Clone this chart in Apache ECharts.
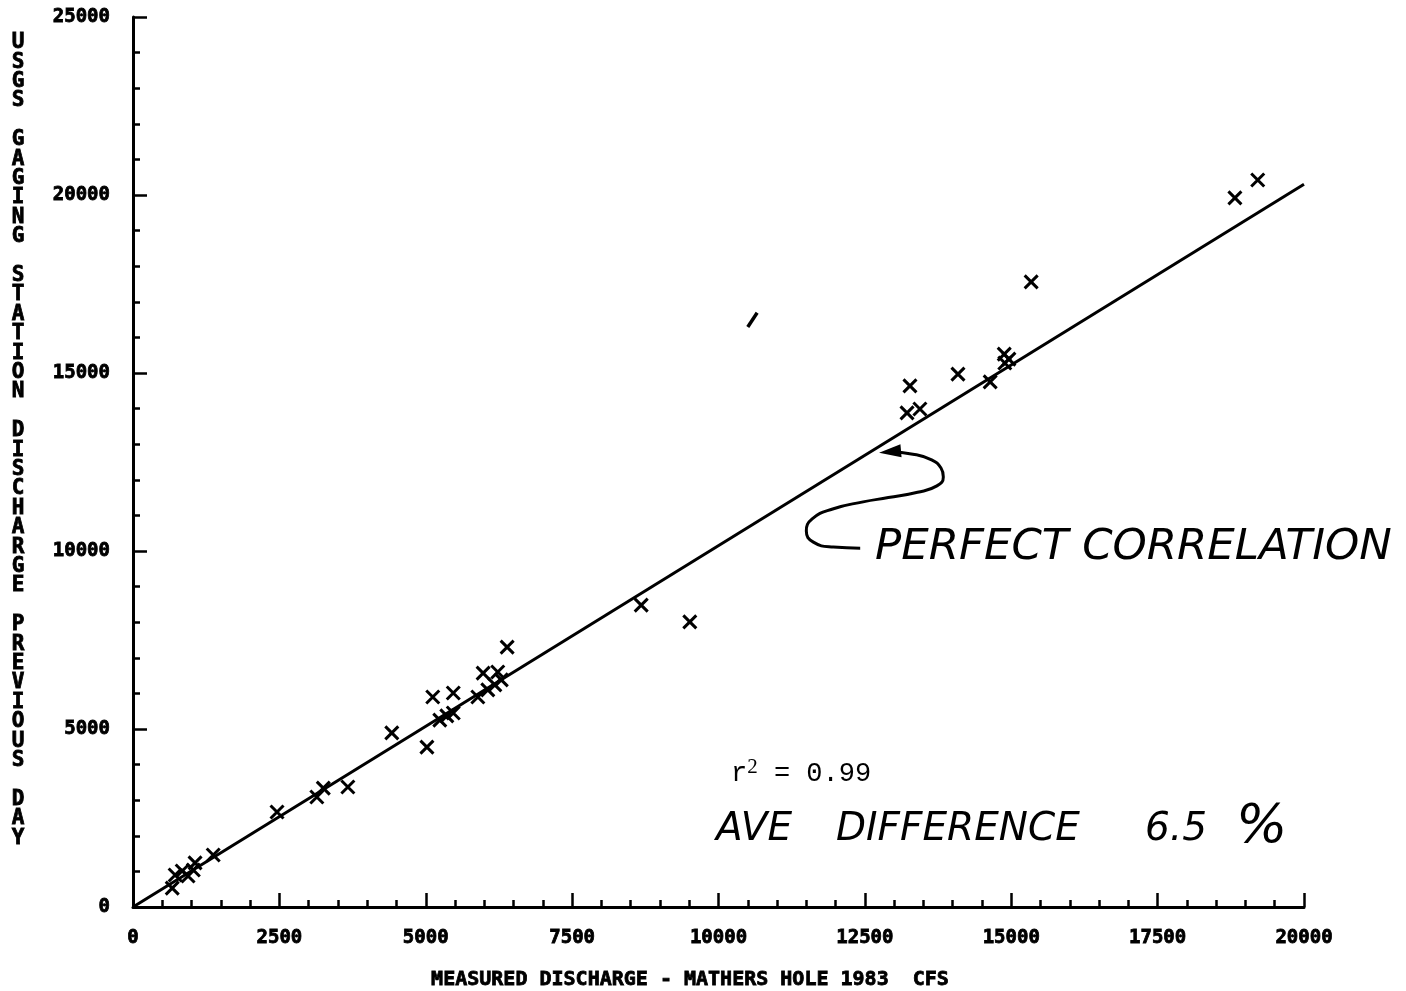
<!DOCTYPE html>
<html><head><meta charset="utf-8">
<script src="https://cdn.jsdelivr.net/npm/echarts@6/dist/echarts.min.js"></script>
<style>html,body{margin:0;padding:0;background:#fff}#c{width:1406px;height:991px}</style>
</head><body><div id="c"></div>
<script>
// ---- data ----
const measuredCfs = [18820, 19210, 15340, 13270, 13220, 13440, 14090, 14640, 14880, 14960, 14890,
  8680, 9510, 6390, 5980, 6230, 5120, 5470, 5890, 6060, 6180, 6290, 5240, 5360, 5470,
  4420, 5020, 3670, 3250, 3140, 2460, 1370, 1060, 1030, 840, 720, 940, 670];
const usgsPrevDay = [19920, 20420, 17560, 14640, 13880, 13990, 14970, 14750, 15530, 15390, 15280,
  8480, 8010, 7300, 6570, 6600, 5900, 6010, 5900, 6100, 6240, 6380, 5250, 5370, 5450,
  4890, 4490, 3370, 3340, 3090, 2670, 1460, 1240, 1040, 1010, 900, 870, 530];
const fitLineX = [0, 20000];
const fitLineY = [0, 20300];
const xTickLabels = [0, 2500, 5000, 7500, 10000, 12500, 15000, 17500, 20000];
const yTickLabels = [0, 5000, 10000, 15000, 20000, 25000];
// annotation arrow (data coordinates)
const arrowCurveX = [12930, 13320, 13640, 13800, 13840, 13730, 13400, 12900, 12470, 11950, 11600, 11500, 11620, 11960, 12420];
const arrowCurveY = [12780, 12720, 12560, 12330, 12080, 11830, 11650, 11500, 11380, 11180, 10900, 10560, 10250, 10110, 10080];
const arrowTip = [12930, 12790];
const strayMarkX = [10500, 10660];
const strayMarkY = [16290, 16690];
const yTitle = 'USGS GAGING STATION DISCHARGE PREVIOUS DAY';
const xTitle = 'MEASURED DISCHARGE - MATHERS HOLE 1983  CFS';

const zip = (a, b) => a.map((v, i) => [v, b[i]]);
const mono = '"DejaVu Sans Mono", monospace';

const chart = echarts.init(document.getElementById('c'), null, {renderer: 'canvas'});
const axisCommon = {
  axisLine: {show: true, onZero: false, lineStyle: {color: '#000', width: 3}},
  axisTick: {show: true, inside: true, length: 14, lineStyle: {color: '#000', width: 2.5}},
  minorTick: {show: true, splitNumber: 5, length: 7, lineStyle: {color: '#000', width: 2.5}},
  splitLine: {show: false},
  axisLabel: {color: '#000', fontFamily: mono, fontWeight: 'bold', fontSize: 19, margin: 22,
    textBorderColor: '#000', textBorderWidth: 0.8, formatter: v => String(v)}
};
chart.setOption({
  animation: false,
  backgroundColor: '#fff',
  grid: {left: 133, right: 102, top: 17, bottom: 84, containLabel: false},
  xAxis: Object.assign({type: 'value', min: 0, max: 20000, interval: 2500}, axisCommon,
    {axisLabel: Object.assign({}, axisCommon.axisLabel, {margin: 22, showMaxLabel: true, showMinLabel: true})}),
  yAxis: Object.assign({type: 'value', min: 0, max: 25000, interval: 5000}, axisCommon,
    {axisLabel: Object.assign({}, axisCommon.axisLabel, {margin: 23})}),
  series: [
    {type: 'line', data: zip(fitLineX, fitLineY), showSymbol: false, symbol: 'none',
      lineStyle: {color: '#000', width: 3}, silent: true, z: 2},
    {type: 'scatter', data: zip(measuredCfs, usgsPrevDay),
      symbol: 'path://M0,0L10,10M10,0L0,10', symbolSize: 13,
      itemStyle: {color: 'rgba(0,0,0,0)', borderColor: '#000', borderWidth: 3, opacity: 1}, z: 3},
    {type: 'line', data: zip(arrowCurveX, arrowCurveY), smooth: 0.5, symbol: 'none',
      lineStyle: {color: '#000', width: 3}, silent: true, z: 4},
    {type: 'scatter', data: [arrowTip], symbol: 'triangle', symbolRotate: 95,
      symbolSize: [13, 22], itemStyle: {color: '#000', opacity: 1}, z: 4},
    {type: 'line', data: zip(strayMarkX, strayMarkY), symbol: 'none',
      lineStyle: {color: '#000', width: 3.5}, silent: true, z: 4}
  ],
  graphic: [
    {type: 'text', x: 18, y: 33, style: {text: yTitle.split('').join('\n'), font: 'bold 21px ' + mono,
      fill: '#000', stroke: '#000', lineWidth: 0.8, align: 'center', verticalAlign: 'top', lineHeight: 19.4}},
    {type: 'text', x: 690, y: 980, style: {text: xTitle, font: 'bold 20px ' + mono,
      fill: '#000', stroke: '#000', lineWidth: 0.8, align: 'center', verticalAlign: 'middle'}},
    {type: 'text', x: 731, y: 772, style: {text: '{a|r}{s|2}{a| = 0.99}', verticalAlign: 'middle', align: 'left',
      rich: {a: {font: '27px "Liberation Mono", monospace', fill: '#000', verticalAlign: 'bottom', lineHeight: 30},
             s: {font: '21px "Liberation Serif", serif', fill: '#000', verticalAlign: 'top', lineHeight: 30, padding: [0, 0, 16, 0]}}}},
    {type: 'text', x: 716, y: 830, style: {text: 'AVE', font: 'italic 39px "DejaVu Sans", sans-serif', fill: '#000', align: 'left', verticalAlign: 'middle'}},
    {type: 'text', x: 836, y: 830, style: {text: 'DIFFERENCE', font: 'italic 39px "DejaVu Sans", sans-serif', fill: '#000', align: 'left', verticalAlign: 'middle'}},
    {type: 'text', x: 1145, y: 830, style: {text: '6.5', font: 'italic 39px "DejaVu Sans", sans-serif', fill: '#000', align: 'left', verticalAlign: 'middle'}},
    {type: 'text', x: 1236, y: 828, style: {text: '%', font: 'italic 54px "DejaVu Sans", sans-serif', fill: '#000', align: 'left', verticalAlign: 'middle'}},
    {type: 'text', x: 875, y: 548, style: {text: 'PERFECT CORRELATION', font: 'italic 43.5px "DejaVu Sans", sans-serif', fill: '#000', align: 'left', verticalAlign: 'middle'}}
  ]
});
</script>
</body></html>
